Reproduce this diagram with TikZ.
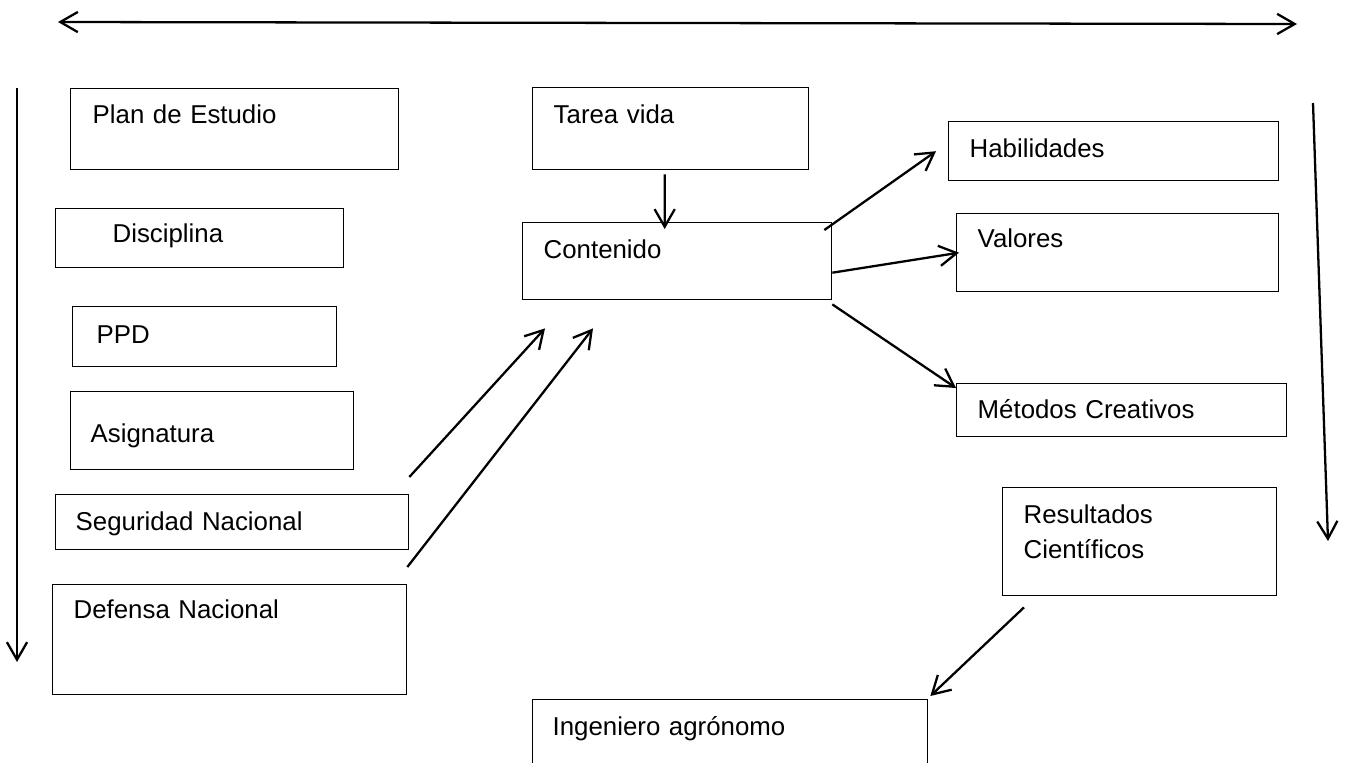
\documentclass[tikz,border=0pt]{standalone}
\usepackage{fontspec}
\setmainfont{Liberation Sans}
\usepackage{tikz}
\usetikzlibrary{positioning,shapes,arrows.meta}

\begin{document}
\begin{tikzpicture}[x=0.02cm, y=-0.02cm,
   >={Straight Barb[length=10pt,width=11.5pt]},
   box/.style={rectangle, draw, line width=0.8pt, anchor=north west, align=left,
               inner ysep=0pt, font=\fontsize{14.7}{19.8}\selectfont},
   link/.style={line width=1.3pt, ->}]
 \useasboundingbox (0,0) rectangle (1346,762);
 \clip (0,0) rectangle (1346,762);

 % left column
 \node [box, inner xsep=0.44cm, text width=5.68cm, text height=0.70cm, text depth=0.92cm] (plan) at (70,88) {Plan de Estudio};
 \node [box, inner xsep=1.14cm, text width=3.48cm, text height=0.68cm, text depth=0.50cm] (disc) at (55,208) {Disciplina};
 \node [box, inner xsep=0.48cm, text width=4.32cm, text height=0.74cm, text depth=0.46cm] (ppd) at (72,306) {PPD};
 \node [box, inner xsep=0.40cm, text width=4.86cm, text height=1.02cm, text depth=0.54cm] (asig) at (70,391) {Asignatura};
 \node [box, inner xsep=0.40cm, text width=6.26cm, text height=0.72cm, text depth=0.38cm] (seg) at (55,494) {Seguridad Nacional};
 \node [box, inner xsep=0.42cm, text width=6.24cm, text height=0.68cm, text depth=1.52cm] (def) at (52,584) {Defensa Nacional};

 % middle
 \node [box, inner xsep=0.42cm, text width=4.68cm, text height=0.72cm, text depth=0.92cm] (tarea) at (532,87) {Tarea vida};
 \node [box, inner xsep=0.42cm, text width=5.34cm, text height=0.72cm, text depth=0.82cm] (cont) at (522,222) {Contenido};
 \node [box, inner xsep=0.40cm, text width=7.10cm, text height=0.72cm, text depth=1.30cm] (ing) at (532,699) {Ingeniero agrónomo};

 % right column
 \node [box, inner xsep=0.42cm, text width=5.76cm, text height=0.72cm, text depth=0.46cm] (hab) at (948,121) {Habilidades};
 \node [box, inner xsep=0.42cm, text width=5.60cm, text height=0.68cm, text depth=0.88cm] (val) at (956,213) {Valores};
 \node [box, inner xsep=0.42cm, text width=5.76cm, text height=0.70cm, text depth=0.36cm] (met) at (956,383) {Métodos Creativos};
 \node [box, inner xsep=0.42cm, text width=4.64cm, text height=0.72cm, text depth=1.44cm] (res) at (1002,487) {Resultados\\Científicos};

 % frame arrows
 \coordinate (tl) at (58,22);
 \coordinate (tr) at (1297,24);
 \coordinate (lt) at (17,88);
 \coordinate (lb) at (17,662);
 \coordinate (rt) at (1313,103);
 \coordinate (rb) at (1328,541);
 \draw [link, <->] (tl) -- (tr);
 \draw [link] (lt) -- (lb);
 \draw [link] (rt) -- (rb);

 % links
 \draw [link] ([xshift=-0.12cm, yshift=-0.08cm]tarea.south) -- ([xshift=-0.25cm, yshift=-0.14cm]cont.north);
 \draw [link] ([xshift=-0.16cm, yshift=-0.16cm]cont.north east) -- ([xshift=-0.24cm]hab.west);
 \draw [link] ([yshift=-0.23cm]cont.east) -- ([xshift=0.06cm]val.west);
 \draw [link] ([yshift=-0.08cm]cont.south east) -- ([yshift=-0.10cm]met.north west);
 \draw [link] ([yshift=0.34cm]seg.north east) -- ([xshift=0.46cm, yshift=-0.56cm]cont.south west);
 \draw [link] ([yshift=0.34cm]def.north east) -- ([xshift=1.42cm, yshift=-0.56cm]cont.south west);
 \draw [link] ([xshift=0.44cm, yshift=-0.22cm]res.south west) -- ([xshift=0.04cm, yshift=0.06cm]ing.north east);
\end{tikzpicture}
\end{document}
